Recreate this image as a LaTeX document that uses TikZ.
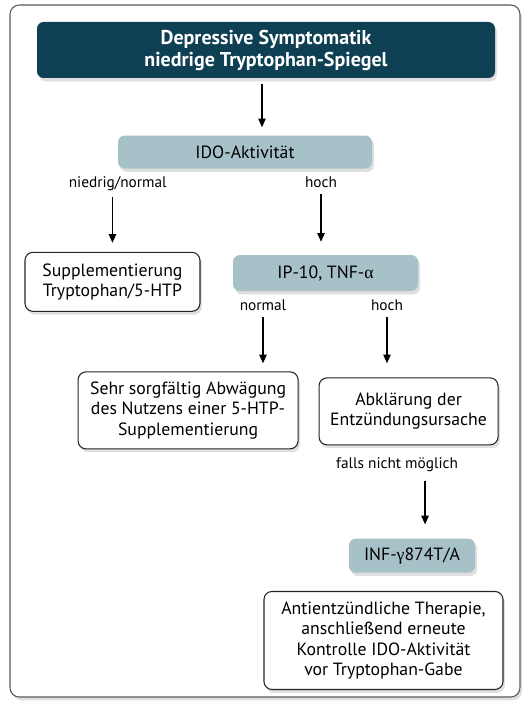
\documentclass[tikz,border=0pt]{standalone}
\usepackage{fontspec}
\setmainfont{PT Sans}
\newfontfamily\grk{Liberation Serif}
\usetikzlibrary{arrows.meta,positioning,shadows}
\definecolor{deep}{HTML}{0E3F52}
\definecolor{pale}{HTML}{A7C1C8}
\definecolor{rim}{HTML}{5A5A5A}

\begin{document}
\begin{tikzpicture}[
      font=\fontsize{13.3}{15.2}\selectfont,
      sh/.style={drop shadow={shadow xshift=1.5pt,shadow yshift=-2.5pt,opacity=.25}},
      head/.style={sh,rounded corners=5pt,fill=deep,text=white,align=center,font=\fontsize{15}{16.5}\selectfont\bfseries,minimum width=343.5pt,minimum height=42pt},
      key/.style={sh,rounded corners=5pt,fill=pale,inner sep=3pt},
      card/.style={sh,rounded corners=6pt,draw=black!85,line width=.8pt,fill=white,align=center,inner sep=3pt},
      lbl/.style={inner sep=0pt,font=\fontsize{11.5}{13}\selectfont},
      arr/.style={-{Triangle[length=6.5pt,width=5.5pt]},line width=1pt,black}]
    \useasboundingbox (0,0) rectangle (397.5pt,-532.5pt);
    \draw[rim,line width=.8pt,fill=white,rounded corners=7pt,sh] (7.5pt,-3.75pt) rectangle (390pt,-522.75pt);
    \node[head] (top) at (199.5pt,-37.5pt) {Depressive Symptomatik\\niedrige Tryptophan-Spiegel};
    \node[key,below=42.75pt of top,xshift=-15.75pt,minimum width=190.5pt,minimum height=24.75pt] (ido) {IDO-Aktivität};
    \node[lbl,below=6pt of ido.south west] (lowlbl) {niedrig/normal};
    \node[lbl,below=6pt of ido.south,xshift=57pt] (hilbl) {hoch};
    \node[card,below=62.25pt of ido,xshift=-99.4pt,minimum width=131.25pt,minimum height=44.25pt] (supp) {Supplementierung\\Tryptophan/5-HTP};
    \node[key,below=64.5pt of ido,xshift=60.4pt,minimum width=138.75pt,minimum height=27pt] (ip) {IP-10, TNF-{\grk α}};
    \node[lbl,below=6pt of ip.south,xshift=-46.9pt] (nlbl) {normal};
    \node[lbl,below=6pt of ip.south,xshift=46.1pt] (h2lbl) {hoch};
    \node[card,below=60pt of ip,xshift=-103.1pt,minimum width=165pt,minimum height=57.75pt] (sehr) {Sehr sorgfältig Abwägung\\des Nutzens einer 5-HTP-\\Supplementierung};
    \node[card,below=64.5pt of ip,xshift=62.25pt,minimum width=134.25pt,minimum height=50.25pt] (abk) {Abklärung der\\Entzündungsursache};
    \node[lbl,below=9pt of abk.south,xshift=-8.6pt] (falls) {falls nicht möglich};
    \node[key,below=69.75pt of abk,xshift=2.6pt,minimum width=94.5pt,minimum height=25.5pt] (inf) {INF-{\grk γ}874T/A};
    \node[card,below=13.5pt of inf,xshift=-21.4pt,minimum width=179.25pt,minimum height=73.5pt] (anti) {Antientzündliche Therapie,\\anschließend erneute\\Kontrolle IDO-Aktivität\\vor Tryptophan-Gabe};
    \draw[arr,shorten <=4.5pt,shorten >=6pt] ([xshift=-3pt]top.south) -- ([xshift=-3pt]top.south |- ido.north);
    \draw[arr,shorten <=4pt,shorten >=6.75pt] (lowlbl.south -| supp.north) -- (supp.north);
    \draw[arr,shorten <=4pt,shorten >=9.75pt] (hilbl.south) -- (hilbl.south |- ip.north);
    \draw[arr,shorten <=5pt,shorten >=6pt] (nlbl.south) -- (nlbl.south |- sehr.north);
    \draw[arr,shorten <=5pt,shorten >=10.5pt] (h2lbl.south) -- (h2lbl.south |- abk.north);
    \draw[arr,shorten <=6.5pt,shorten >=10.5pt] ([xshift=21pt]falls.south) -- ([xshift=21pt]falls.south |- inf.north);
  \end{tikzpicture}
\end{document}
